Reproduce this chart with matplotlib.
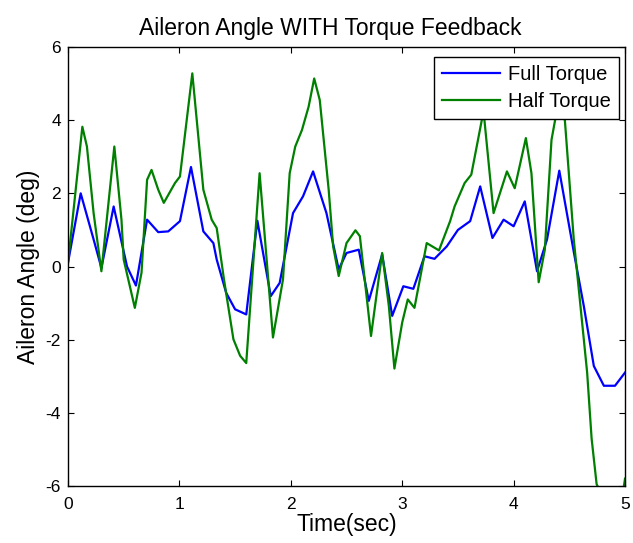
import numpy as np
import matplotlib
matplotlib.use("Agg")
import matplotlib.pyplot as plt

plt.rcParams["font.family"] = ["Liberation Sans", "DejaVu Sans"]
plt.rcParams["axes.unicode_minus"] = False

# Full torque response
t_full = [0.0, 0.114, 0.23, 0.30, 0.41, 0.53, 0.61, 0.71, 0.81, 0.90, 1.005, 1.104,
          1.215, 1.305, 1.335, 1.42, 1.50, 1.60, 1.70, 1.82, 1.90, 2.02, 2.11, 2.20,
          2.32, 2.43, 2.50, 2.61, 2.70, 2.82, 2.91, 3.01, 3.10, 3.20, 3.29, 3.40,
          3.50, 3.61, 3.70, 3.81, 3.91, 4.00, 4.10, 4.21, 4.30, 4.41, 4.54, 4.63,
          4.72, 4.81, 4.91, 5.0]
full_torque = [0.1, 2.0, 0.74, -0.04, 1.64, 0.0, -0.52, 1.28, 0.94, 0.96, 1.24, 2.72,
               0.96, 0.64, 0.19, -0.72, -1.17, -1.31, 1.25, -0.81, -0.45, 1.46, 1.92, 2.60,
               1.46, -0.08, 0.37, 0.46, -0.94, 0.33, -1.35, -0.54, -0.61, 0.28, 0.21, 0.55,
               1.0, 1.24, 2.19, 0.78, 1.28, 1.10, 1.78, -0.13, 0.74, 2.62, 0.4, -1.08,
               -2.72, -3.26, -3.26, -2.9]

# Half torque response
t_half = [0.0, 0.063, 0.129, 0.17, 0.23, 0.30, 0.416, 0.48, 0.50, 0.60, 0.66, 0.71,
          0.75, 0.81, 0.86, 0.96, 1.005, 1.116, 1.215, 1.29, 1.335, 1.40, 1.485, 1.545,
          1.60, 1.72, 1.84, 1.93, 1.99, 2.04, 2.10, 2.16, 2.21, 2.26, 2.34, 2.38,
          2.43, 2.50, 2.58, 2.62, 2.72, 2.82, 2.88, 2.93, 3.00, 3.05, 3.11, 3.22,
          3.33, 3.43, 3.47, 3.56, 3.62, 3.73, 3.82, 3.94, 4.01, 4.11, 4.16, 4.225,
          4.28, 4.34, 4.39, 4.46, 4.54, 4.60, 4.66, 4.70, 4.745, 4.85, 4.95, 5.0]
half_torque = [0.1, 1.92, 3.82, 3.28, 1.46, -0.13, 3.28, 1.28, 0.19, -1.13, -0.17, 2.37,
               2.64, 2.1, 1.74, 2.28, 2.46, 5.28, 2.1, 1.28, 1.05, -0.35, -1.99, -2.44,
               -2.64, 2.55, -1.94, -0.35, 2.55, 3.28, 3.73, 4.37, 5.14, 4.55, 2.1, 0.55,
               -0.26, 0.64, 0.99, 0.83, -1.90, 0.37, -1.08, -2.79, -1.53, -0.90, -1.13, 0.64,
               0.44, 1.24, 1.64, 2.28, 2.51, 4.25, 1.46, 2.60, 2.14, 3.51, 2.55, -0.43,
               0.46, 3.46, 4.3, 4.0, 0.74, -1.08, -2.9, -4.7, -5.95, -6.6, -6.8, -5.8]

fig = plt.figure(figsize=(6.33, 5.43), dpi=100)
ax = fig.add_axes([0.1074, 0.105, 0.88, 0.8084])

ax.plot(t_full, full_torque, color=(0, 0, 1), lw=1.6, label="Full Torque")
ax.plot(t_half, half_torque, color=(0, 0.5, 0), lw=1.6, label="Half Torque")

ax.set_xlim(0, 5)
ax.set_ylim(-6, 6)
ax.set_xticks([0, 1, 2, 3, 4, 5])
ax.set_yticks([-6, -4, -2, 0, 2, 4, 6])
ax.tick_params(direction="in", top=True, right=True, labelsize=12.5, length=4)
ax.tick_params(axis="x", pad=8)
ax.tick_params(axis="y", pad=5)
for s in ax.spines.values():
    s.set_linewidth(1.0)

ax.set_title("Aileron Angle WITH Torque Feedback", fontsize=16.5, pad=9, x=0.47)
ax.set_xlabel("Time(sec)", fontsize=16.5, labelpad=1)
ax.set_ylabel("Aileron Angle (deg)", fontsize=16.5, labelpad=4)

leg = ax.legend(loc="upper right", fontsize=14.5, fancybox=False, framealpha=1,
                edgecolor="black", bbox_to_anchor=(619 / 633, 1 - 57 / 543),
                bbox_transform=fig.transFigure, borderaxespad=0,
                handlelength=2.9, handletextpad=0.4, borderpad=0.4,
                labelspacing=0.4)
leg.get_frame().set_linewidth(1.0)

fig.savefig("out.png", dpi=100)
